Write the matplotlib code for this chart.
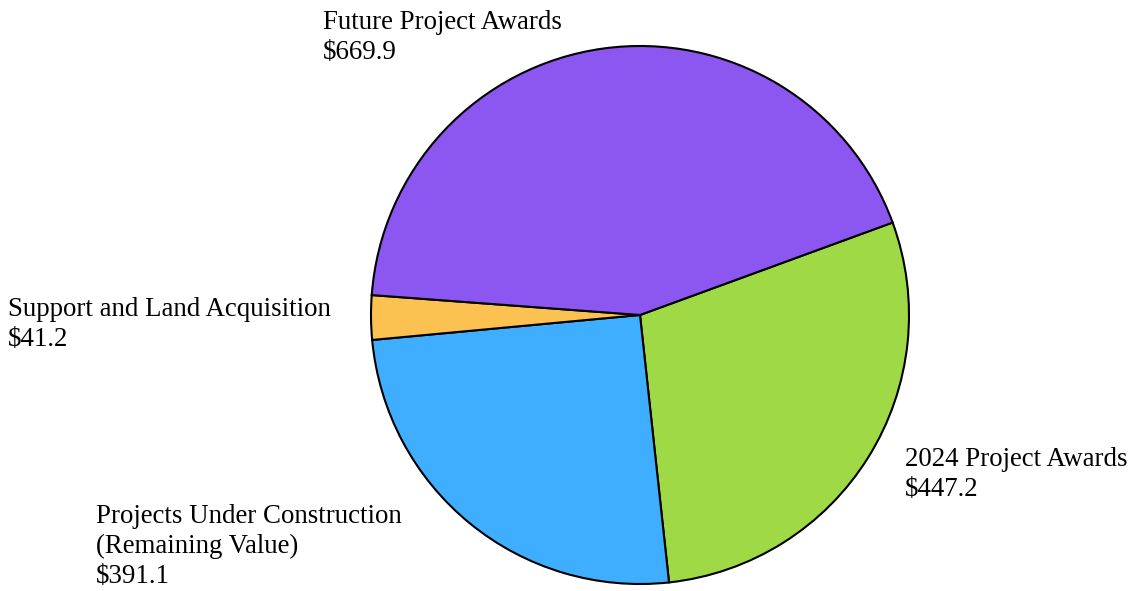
import matplotlib
matplotlib.use("Agg")
import matplotlib.pyplot as plt

categories = ["2024 Project Awards", "Projects Under Construction\n(Remaining Value)",
              "Support and Land Acquisition", "Future Project Awards"]
values = [447.2, 391.1, 41.2, 669.9]
colors = ["#9FDA46", "#40AEFF", "#FBC252", "#8B57F0"]

W, H = 1135, 591
fig = plt.figure(figsize=(W / 100, H / 100), dpi=100)

cx, cy, r = 640, 315, 269
ax = fig.add_axes([(cx - r) / W, (H - cy - r) / H, 2 * r / W, 2 * r / H])
ax.pie(values, colors=colors, startangle=20.1, counterclock=False, radius=1,
       wedgeprops=dict(edgecolor="black", linewidth=1.5, clip_on=False))
ax.set_xlim(-1.0, 1.0)
ax.set_ylim(-1.0, 1.0)
ax.set_aspect("equal")
ax.axis("off")

# label positions (pixels: left x, top y)
label_pos = [(905, 447), (96, 504), (8, 297), (323, 10)]
for cat, val, (x, y) in zip(categories, values, label_pos):
    fig.text(x / W, 1 - y / H, f"{cat}\n${val:.1f}", ha="left", va="top",
             fontsize=19.4, family="Liberation Serif", linespacing=1.25)

fig.savefig("out.png", dpi=100)
